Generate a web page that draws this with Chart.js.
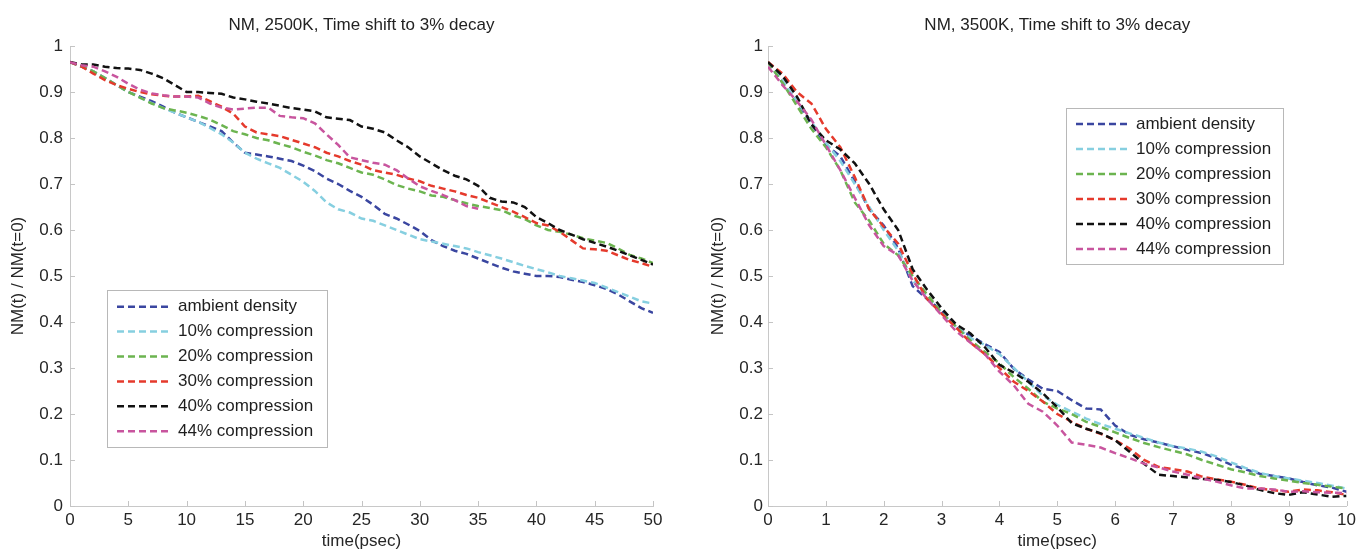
<!DOCTYPE html>
<html>
<head>
<meta charset="utf-8">
<title>NM decay, time shift to 3%</title>
<script src="https://cdn.jsdelivr.net/npm/chart.js@4.4.1/dist/chart.umd.min.js"></script>
<style>
  html, body { margin: 0; padding: 0; background: #fff; }
  #wrap { position: relative; width: 1360px; height: 550px; overflow: hidden; }
  .panel { position: absolute; top: 0; width: 680px; height: 550px; }
</style>
</head>
<body>
<div id="wrap">
  <div class="panel" style="left:0"><canvas id="c2500" width="680" height="550"></canvas></div>
  <div class="panel" style="left:680px"><canvas id="c3500" width="680" height="550"></canvas></div>
</div>
<script>
// series names (legend order)
const seriesNames = ["ambient density", "10% compression", "20% compression",
                     "30% compression", "40% compression", "44% compression"];

// 2500K run, time in psec
const t2500 = [0,1,2,3,4,5,6,7,8,9,10,11,12,13,14,15,16,17,18,19,20,
               21,22,23,24,25,26,27,28,29,30,31,32,33,34,35,36,37,38,39,40,
               41,42,43,44,45,46,47,48,49,50];
const amb2500 = [0.965,0.955,0.945,0.93,0.915,0.9,0.89,0.88,0.868,0.855,0.845,
                 0.835,0.825,0.815,0.79,0.768,0.764,0.76,0.755,0.75,0.74,
                 0.728,0.712,0.7,0.685,0.672,0.655,0.635,0.625,0.612,0.598,
                 0.578,0.565,0.555,0.548,0.538,0.528,0.518,0.51,0.505,0.5,
                 0.5,0.498,0.492,0.487,0.48,0.472,0.46,0.445,0.43,0.42];
const c10_2500 = [0.965,0.955,0.945,0.93,0.915,0.9,0.888,0.876,0.865,0.855,0.845,
                  0.835,0.822,0.808,0.79,0.768,0.755,0.745,0.735,0.72,0.705,
                  0.685,0.66,0.645,0.638,0.625,0.62,0.61,0.6,0.59,0.58,
                  0.575,0.57,0.565,0.56,0.552,0.545,0.538,0.53,0.522,0.515,
                  0.508,0.5,0.495,0.49,0.485,0.475,0.465,0.455,0.445,0.44];
const c20_2500 = [0.965,0.955,0.945,0.93,0.915,0.9,0.888,0.875,0.865,0.86,0.855,
                  0.848,0.84,0.828,0.815,0.808,0.8,0.795,0.787,0.78,0.77,
                  0.762,0.752,0.745,0.735,0.725,0.72,0.71,0.698,0.69,0.684,
                  0.675,0.672,0.665,0.658,0.652,0.648,0.643,0.632,0.624,0.61,
                  0.6,0.596,0.59,0.582,0.577,0.572,0.56,0.546,0.538,0.528];
const c30_2500 = [0.965,0.955,0.94,0.926,0.915,0.907,0.9,0.895,0.892,0.89,0.89,
                  0.892,0.88,0.868,0.853,0.825,0.812,0.808,0.804,0.796,0.788,
                  0.78,0.768,0.76,0.75,0.742,0.73,0.725,0.72,0.712,0.706,
                  0.696,0.69,0.684,0.676,0.67,0.66,0.65,0.64,0.628,0.615,
                  0.61,0.596,0.578,0.56,0.558,0.555,0.545,0.535,0.528,0.52];
const c40_2500 = [0.965,0.96,0.96,0.955,0.952,0.951,0.948,0.94,0.93,0.915,0.9,
                  0.9,0.898,0.896,0.888,0.884,0.879,0.875,0.87,0.865,0.862,
                  0.858,0.845,0.842,0.839,0.825,0.82,0.812,0.795,0.78,0.76,
                  0.745,0.73,0.718,0.71,0.696,0.67,0.662,0.66,0.65,0.628,
                  0.615,0.6,0.59,0.58,0.572,0.564,0.555,0.545,0.535,0.525];
// 44% run stops at 35 psec
const c44_2500 = [0.965,0.958,0.955,0.945,0.933,0.918,0.905,0.897,0.893,0.89,0.89,
                  0.888,0.875,0.866,0.862,0.864,0.866,0.866,0.848,0.845,0.843,
                  0.832,0.808,0.785,0.758,0.752,0.746,0.742,0.73,0.712,0.695,
                  0.685,0.676,0.665,0.652,0.646];

// 3500K run
const t3500 = [0,0.25,0.5,0.75,1,1.25,1.5,1.75,2,2.25,2.5,2.75,3,3.25,3.5,3.75,
               4,4.25,4.5,4.75,5,5.25,5.5,5.75,6,6.25,6.5,6.75,7,7.25,7.5,7.75,
               8,8.25,8.5,8.75,9,9.25,9.5,9.75,10];
const amb3500 = [0.965,0.92,0.88,0.83,0.785,0.76,0.705,0.645,0.61,0.56,
                 0.478,0.45,0.425,0.388,0.37,0.352,0.335,0.298,0.275,0.255,
                 0.25,0.23,0.212,0.21,0.175,0.155,0.145,0.138,0.13,0.122,
                 0.115,0.104,0.09,0.08,0.07,0.065,0.06,0.052,0.045,0.04,0.031];
const c10_3500 = [0.965,0.925,0.88,0.835,0.79,0.75,0.7,0.65,0.6,0.555,
                  0.49,0.455,0.42,0.39,0.365,0.35,0.33,0.3,0.27,0.24,
                  0.22,0.205,0.19,0.178,0.168,0.158,0.148,0.138,0.13,0.125,
                  0.118,0.108,0.095,0.083,0.072,0.065,0.06,0.055,0.05,0.044,0.038];
const c20_3500 = [0.965,0.92,0.87,0.82,0.78,0.73,0.66,0.62,0.57,0.545,
                  0.5,0.46,0.42,0.39,0.36,0.335,0.31,0.28,0.255,0.227,
                  0.212,0.2,0.183,0.172,0.16,0.148,0.137,0.128,0.12,0.112,
                  0.1,0.09,0.08,0.073,0.065,0.06,0.055,0.05,0.046,0.042,0.038];
const c30_3500 = [0.965,0.94,0.9,0.875,0.82,0.78,0.715,0.645,0.607,0.57,
                  0.505,0.45,0.418,0.388,0.355,0.33,0.3,0.27,0.25,0.227,
                  0.2,0.183,0.168,0.157,0.143,0.125,0.1,0.085,0.08,0.075,
                  0.064,0.058,0.053,0.046,0.038,0.034,0.031,0.036,0.034,0.03,0.024];
const c40_3500 = [0.965,0.935,0.89,0.83,0.795,0.775,0.745,0.7,0.645,0.6,
                  0.515,0.47,0.43,0.395,0.375,0.345,0.307,0.29,0.27,0.245,
                  0.215,0.18,0.168,0.158,0.143,0.118,0.092,0.068,0.065,0.062,
                  0.059,0.057,0.052,0.045,0.035,0.028,0.024,0.03,0.025,0.02,0.022];
const c44_3500 = [0.955,0.915,0.88,0.84,0.785,0.73,0.67,0.61,0.565,0.545,
                  0.49,0.45,0.415,0.38,0.355,0.33,0.292,0.262,0.222,0.205,
                  0.175,0.138,0.133,0.127,0.115,0.104,0.092,0.084,0.075,0.068,
                  0.06,0.053,0.045,0.038,0.038,0.036,0.031,0.032,0.03,0.029,0.028];

const lineColors = ["#3a46a0", "#86cfe0", "#6cb450", "#e53a2c", "#111111", "#c8559e"];
const FONT = '"Liberation Sans", Arial, sans-serif';

Chart.defaults.font.family = FONT;
Chart.defaults.font.size = 17;
Chart.defaults.color = "#262626";

function makeSets(times, series) {
  return series.map((vals, i) => ({
    label: seriesNames[i],
    data: vals.map((v, k) => ({ x: times[k], y: v })),
    borderColor: lineColors[i],
    borderWidth: 2.5,
    borderDash: [7, 4],
    pointRadius: 0,
    tension: 0,
    fill: false,
    order: series.length - i   // later runs drawn on top
  }));
}

// boxed legend drawn inside the axes
const insetLegend = {
  id: "insetLegend",
  afterDatasetsDraw(chart, args, o) {
    const ctx = chart.ctx;
    ctx.save();
    ctx.fillStyle = "#fff";
    ctx.fillRect(o.left, o.top, o.width, o.height);
    ctx.strokeStyle = "#b8b8b8";
    ctx.lineWidth = 1;
    ctx.strokeRect(o.left + 0.5, o.top + 0.5, o.width, o.height);
    ctx.font = "17px " + FONT;
    ctx.textBaseline = "middle";
    chart.data.datasets.forEach((ds, i) => {
      const y = o.top + o.firstRow + i * o.rowGap;
      ctx.setLineDash(ds.borderDash);
      ctx.strokeStyle = ds.borderColor;
      ctx.lineWidth = ds.borderWidth;
      ctx.beginPath();
      ctx.moveTo(o.left + o.lineStart, y);
      ctx.lineTo(o.left + o.lineStart + o.lineLen, y);
      ctx.stroke();
      ctx.setLineDash([]);
      ctx.fillStyle = "#1e1e1e";
      ctx.fillText(ds.label, o.left + o.textX, y);
    });
    ctx.restore();
  }
};

// short tick marks pointing into the plot
const inwardTicks = {
  id: "inwardTicks",
  beforeDatasetsDraw(chart) {
    const { ctx, chartArea: a, scales: { x, y } } = chart;
    ctx.save();
    ctx.strokeStyle = "#c4c4c4";
    ctx.lineWidth = 1;
    ctx.beginPath();
    x.ticks.forEach(t => {
      const px = Math.round(x.getPixelForValue(t.value)) + 0.5;
      ctx.moveTo(px, a.bottom);
      ctx.lineTo(px, a.bottom - 5);
    });
    y.ticks.forEach(t => {
      const py = Math.round(y.getPixelForValue(t.value)) + 0.5;
      ctx.moveTo(a.left, py);
      ctx.lineTo(a.left + 5, py);
    });
    ctx.stroke();
    ctx.restore();
  }
};

function panelOptions(cfg) {
  return {
    responsive: false,
    animation: false,
    layout: { padding: { right: cfg.padRight } },
    plugins: {
      legend: { display: false },
      tooltip: { enabled: false },
      title: {
        display: true, text: cfg.title, fullSize: false, color: "#222",
        font: { size: 17, weight: "normal" },
        padding: { top: 15, bottom: 10.6 }
      },
      insetLegend: cfg.legend
    },
    scales: {
      x: {
        type: "linear", min: 0, max: cfg.xMax,
        ticks: { stepSize: cfg.xStep, padding: 4, maxRotation: 0, autoSkip: false },
        grid: { drawOnChartArea: false, drawTicks: false },
        border: { color: "#c8c8c8" },
        title: { display: true, text: "time(psec)", font: { size: 17, lineHeight: 1 }, padding: 0 },
        afterFit: s => { s.height = 44; }
      },
      y: {
        min: 0, max: 1,
        ticks: {
          stepSize: 0.1, padding: cfg.yPad,
          callback: v => String(+v.toFixed(1))   // 0, 0.1 ... 1
        },
        grid: { drawOnChartArea: false, drawTicks: false },
        border: { color: "#c8c8c8" },
        title: { display: true, text: "NM(t) / NM(t=0)", font: { size: 17, lineHeight: 1 },
                 padding: { top: cfg.yTitlePad, bottom: 0 } },
        afterFit: s => { s.width = cfg.yWidth; }
      }
    }
  };
}

new Chart(document.getElementById("c2500"), {
  type: "line",
  data: { datasets: makeSets(t2500, [amb2500, c10_2500, c20_2500, c30_2500, c40_2500, c44_2500]) },
  options: panelOptions({
    title: "NM, 2500K, Time shift to 3% decay",
    xMax: 50, xStep: 5, padRight: 27, yWidth: 70, yPad: 7, yTitlePad: 9.5,
    legend: { left: 107, top: 290, width: 220, height: 157, firstRow: 16.7, rowGap: 24.9,
              lineStart: 10, lineLen: 54, textX: 71 }
  }),
  plugins: [inwardTicks, insetLegend]
});

new Chart(document.getElementById("c3500"), {
  type: "line",
  data: { datasets: makeSets(t3500, [amb3500, c10_3500, c20_3500, c30_3500, c40_3500, c44_3500]) },
  options: panelOptions({
    title: "NM, 3500K, Time shift to 3% decay",
    xMax: 10, xStep: 1, padRight: 10, yWidth: 88, yPad: 5, yTitlePad: 29.5,
    legend: { left: 386, top: 108, width: 217, height: 156, firstRow: 16, rowGap: 25,
              lineStart: 10, lineLen: 52, textX: 70 }
  }),
  plugins: [inwardTicks, insetLegend]
});
</script>
</body>
</html>
